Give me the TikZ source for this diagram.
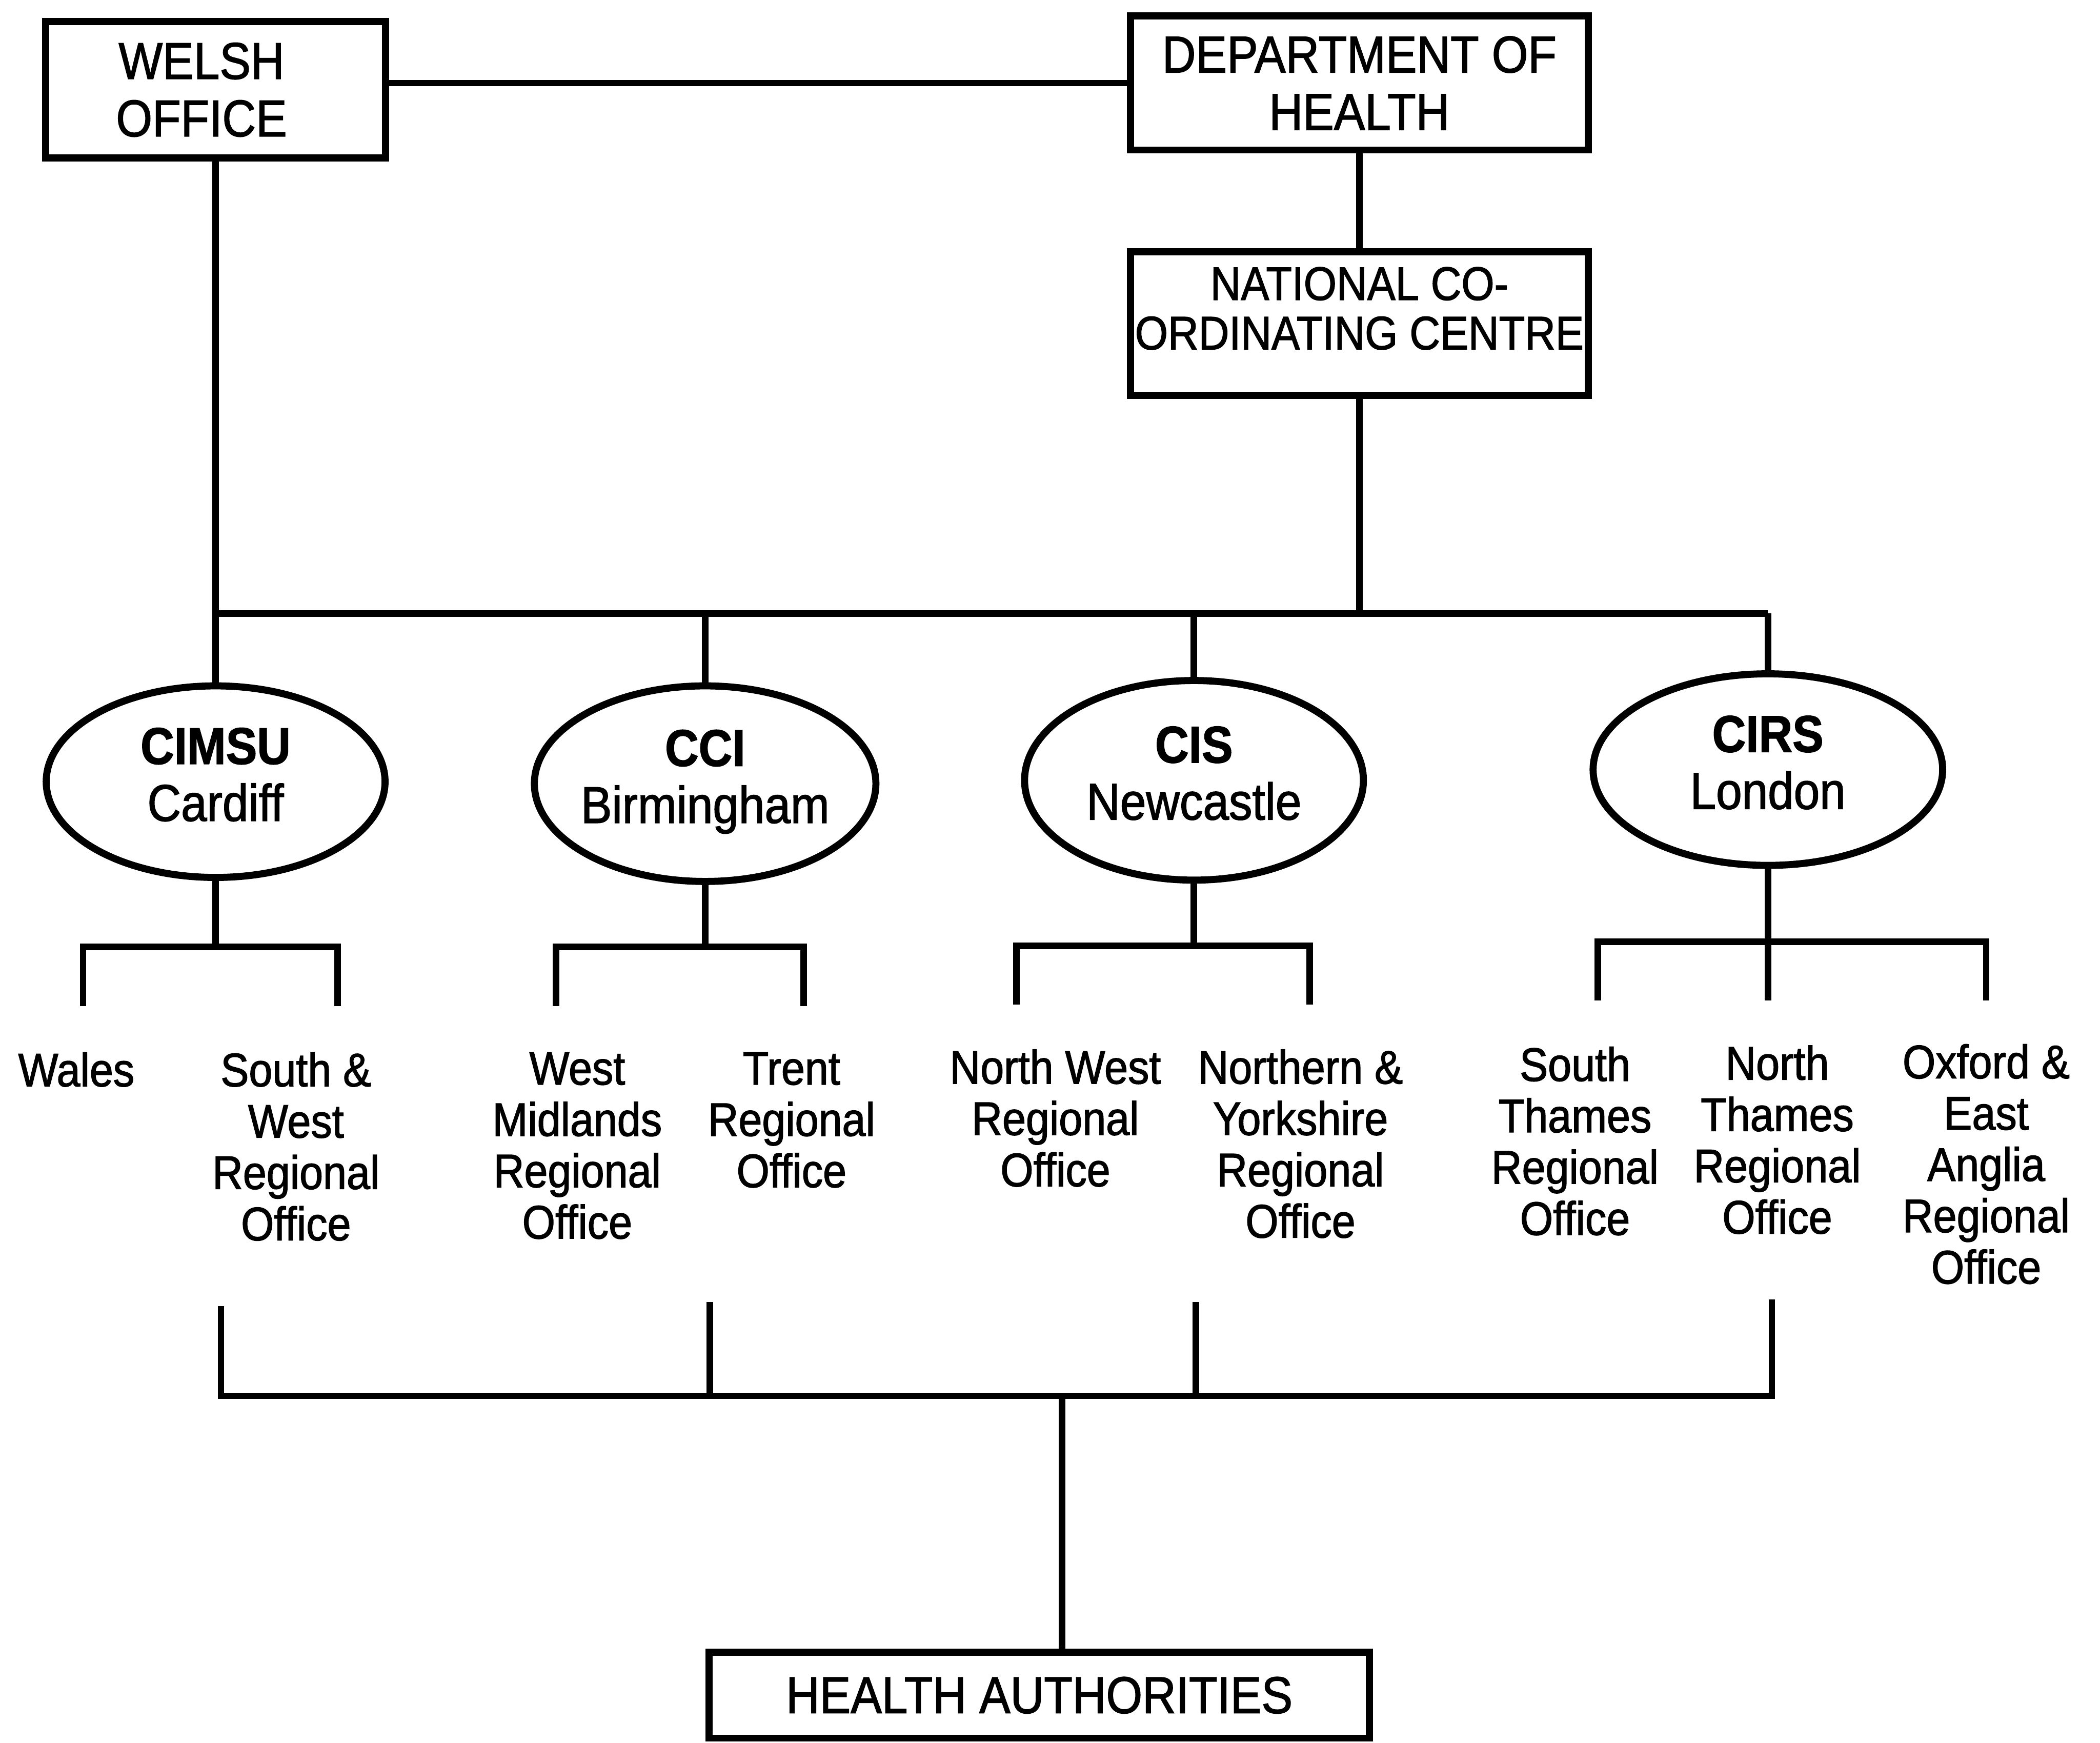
\documentclass[tikz,border=0pt]{standalone}
\usepackage{fontspec}
\setmainfont{Liberation Sans}[FakeStretch=0.9, FakeBold=1.5]
\usetikzlibrary{shapes.geometric}

\begin{document}
\begin{tikzpicture}[line width=1.4pt,
    box/.style={draw, line width=1.5pt, align=center, inner sep=0pt, font=\fontsize{11}{12.2}\selectfont},
    centre/.style={draw, ellipse, line width=1.5pt, align=center, inner xsep=-1.5pt, inner ysep=0pt, font=\fontsize{11}{12.1}\selectfont},
    region/.style={anchor=north, align=center, inner sep=0pt, font=\fontsize{10}{10.9}\selectfont}]
  \useasboundingbox (0,0) rectangle (15.68,-13.01);

  \node[box, minimum width=2.54cm, minimum height=1.02cm] (welsh) at (1.61,-0.67) {WELSH\hspace*{6pt}\\OFFICE\hspace*{6pt}};
  \node[box, minimum width=3.42cm, minimum height=1.00cm] (doh) at (10.15,-0.62) {DEPARTMENT OF\\HEALTH};
  \node[box, minimum width=3.42cm, minimum height=1.07cm, font=\fontsize{10}{10.5}\selectfont] (ncc) at (10.15,-2.415) {NATIONAL CO-\\ORDINATING CENTRE\\[-4pt]~};

  \node[centre, minimum width=2.53cm, minimum height=1.43cm] (cimsu) at (1.61,-5.835) {\textbf{CIMSU}\\Cardiff\\[-9pt]~};
  \node[centre, minimum width=2.55cm, minimum height=1.46cm] (cci) at (5.265,-5.85) {\textbf{CCI}\\Birmingham\\[-9pt]~};
  \node[centre, minimum width=2.53cm, minimum height=1.49cm] (cis) at (8.915,-5.825) {\textbf{CIS}\\Newcastle\\[-9pt]~};
  \node[centre, minimum width=2.61cm, minimum height=1.43cm] (cirs) at (13.2,-5.745) {\textbf{CIRS}\\London\\[-9pt]~};

  \node[region] (wales) at (0.57,-7.83) {Wales};
  \node[region] (swro) at (2.21,-7.83) {South \&\\West\\Regional\\Office};
  \node[region] (wmro) at (4.31,-7.83) {West\\Midlands\\Regional\\Office};
  \node[region] (trro) at (5.91,-7.83) {Trent\\Regional\\Office};
  \node[region] (nwro) at (7.88,-7.81) {North West\\Regional\\Office};
  \node[region] (nyro) at (9.71,-7.81) {Northern \&\\Yorkshire\\Regional\\Office};
  \node[region] (stro) at (11.76,-7.79) {South\\Thames\\Regional\\Office};
  \node[region] (ntro) at (13.27,-7.78) {North\\Thames\\Regional\\Office};
  \node[region] (oaro) at (14.83,-7.77) {Oxford \&\\East\\Anglia\\Regional\\Office};

  \node[box, minimum width=4.93cm, minimum height=0.64cm] (ha) at (7.76,-12.655) {HEALTH AUTHORITIES};

  \coordinate (wales-in) at (0.62,-7.51);
  \coordinate (swro-in) at (2.52,-7.51);
  \coordinate (wmro-in) at (4.15,-7.51);
  \coordinate (trro-in) at (6.00,-7.51);
  \coordinate (nwro-in) at (7.59,-7.50);
  \coordinate (nyro-in) at (9.78,-7.50);
  \coordinate (stro-in) at (11.93,-7.47);
  \coordinate (ntro-in) at (13.2,-7.47);
  \coordinate (oaro-in) at (14.83,-7.47);

  \coordinate (cimsu-out) at (1.65,-9.75);
  \coordinate (cci-out) at (5.30,-9.72);
  \coordinate (cis-out) at (8.93,-9.72);
  \coordinate (cirs-out) at (13.23,-9.70);
  \coordinate (hbus) at (7.93,-10.42);

  \draw (welsh.east |- doh.west) -- (doh.west);
  \draw (doh) -- (ncc);
  \draw (welsh) -- (cimsu);
  \draw (cimsu |- 0,-4.58) -- (cirs |- 0,-4.58);
  \draw (ncc) -- (ncc |- 0,-4.58);
  \draw (cci) -- (cci |- 0,-4.58);
  \draw (cis) -- (cis |- 0,-4.58);
  \draw (cirs) -- (cirs |- 0,-4.58);

  \draw (cimsu) -- (cimsu |- 0,-7.07);
  \draw (wales-in) |- (cimsu |- 0,-7.07) -| (swro-in);
  \draw (cci) -- (cci |- 0,-7.07);
  \draw (wmro-in) |- (cci |- 0,-7.07) -| (trro-in);
  \draw (cis) -- (cis |- 0,-7.06);
  \draw (nwro-in) |- (cis |- 0,-7.06) -| (nyro-in);
  \draw (cirs) -- (ntro-in);
  \draw (stro-in) |- (ntro-in |- 0,-7.03) -| (oaro-in);

  \draw (cimsu-out) |- (cirs-out |- hbus) -- (cirs-out);
  \draw (cci-out) -- (cci-out |- hbus);
  \draw (cis-out) -- (cis-out |- hbus);
  \draw (hbus) -- (hbus |- ha.north);
\end{tikzpicture}
\end{document}
